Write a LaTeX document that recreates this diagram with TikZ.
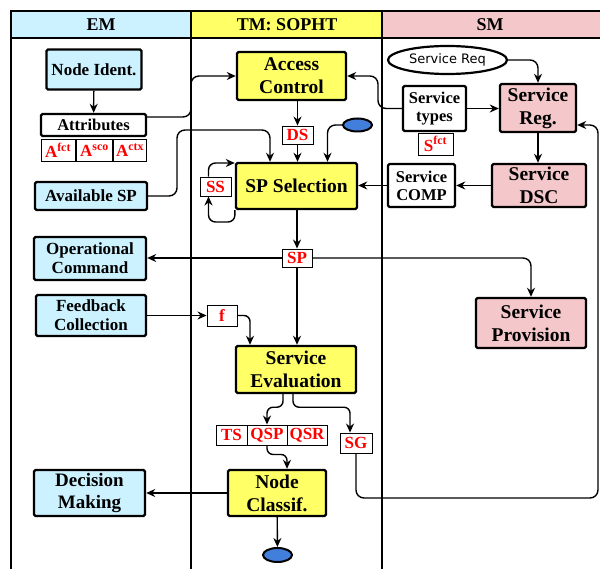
\documentclass[tikz,border=0pt]{standalone}
\usepackage{fontspec}
\setmainfont{Liberation Serif}
\newfontfamily\reqfont{DejaVu Sans}
\usetikzlibrary{calc, positioning, arrows.meta, shapes.geometric}
\definecolor{EMColor}{RGB}{204, 242, 255}
\definecolor{TMColor}{RGB}{255, 255, 102}
\definecolor{SMColor}{RGB}{244, 199, 202}
\definecolor{EndColor}{RGB}{66, 126, 220}

\begin{document}
\begin{tikzpicture}[x=1pt, y=-1pt, >={Stealth[length=9pt, width=8pt]}, line width=1.4pt,
  box/.style={draw, line width=2.4pt, rounded corners=1.5pt, align=center, inner sep=1pt, font=\bfseries\fontsize{19.5}{23}\selectfont},
  em/.style={box, fill=EMColor, font=\bfseries\fontsize{17}{19}\selectfont},
  tm/.style={box, fill=TMColor},
  sm/.style={box, fill=SMColor},
  plain/.style={box, fill=white, font=\bfseries\fontsize{16.5}{18}\selectfont},
  tag/.style={draw, line width=0.9pt, fill=white, text=red, inner sep=0pt, font=\bfseries\fontsize{17}{18}\selectfont},
  blob/.style={draw, ellipse, line width=2pt, fill=EndColor, inner sep=0pt},
  lane/.style={font=\bfseries\fontsize{18}{20}\selectfont}]

\useasboundingbox (0,0) rectangle (600,569);

\fill[EMColor] (11,11) rectangle (191,38);
\fill[TMColor] (191,11) rectangle (382,38);
\fill[SMColor] (382,11) rectangle (602,38);
\draw (11,575) -- (11,11) -- (602,11) -- (602,575);
\draw (11,38) -- (602,38);
\draw (191,11) -- (191,575);
\draw (382,11) -- (382,575);

\node[lane] (emlane) at (101,25) {EM};
\node[lane] (tmlane) at (287,25) {TM: SOPHT};
\node[lane] (smlane) at (490,25) {SM};

\node[em, minimum width=95pt, minimum height=40pt] (nid) at (94,69.5) {Node Ident.};
\node[plain, minimum width=105pt, minimum height=22pt] (attr) at (93.5,125) {Attributes};
\node[tag, minimum width=34pt, minimum height=22pt] (afct) at (58,150.5) {A\textsuperscript{fct}};
\node[tag, minimum width=36pt, minimum height=22pt] (asco) at (94.5,150.5) {A\textsuperscript{sco}};
\node[tag, minimum width=33pt, minimum height=22pt] (actx) at (130,150.5) {A\textsuperscript{ctx}};
\node[em, minimum width=112pt, minimum height=28pt] (avsp) at (91,196) {Available SP};
\node[em, minimum width=112pt, minimum height=43pt] (opc) at (90,258.5) {Operational\\Command};
\node[em, minimum width=110pt, minimum height=41pt] (fc) at (91,315.5) {Feedback\\Collection};
\node[em, minimum width=111pt, minimum height=46pt, font=\bfseries\fontsize{19}{22}\selectfont] (dm) at (89.5,493) {Decision\\Making};

\node[tm, minimum width=109pt, minimum height=48pt] (ac) at (291.5,76) {Access\\Control};
\node[tag, minimum width=31pt, minimum height=18pt] (ds) at (297.5,135) {DS};
\node[blob, minimum width=29pt, minimum height=13pt] (start) at (357.5,125) {};
\node[tm, minimum width=121pt, minimum height=46pt] (sps) at (296.5,186) {SP Selection};
\node[tag, minimum width=31pt, minimum height=19pt] (ss) at (215.5,186.5) {SS};
\node[tag, minimum width=30pt, minimum height=18pt] (sp) at (297,258) {SP};
\node[tag, minimum width=30pt, minimum height=21pt] (fb) at (222,315.5) {f};
\node[tm, minimum width=120pt, minimum height=47pt] (seval) at (296,369.5) {Service\\Evaluation};
\node[tag, minimum width=31pt, minimum height=20pt] (ts) at (231.5,435) {TS};
\node[tag, minimum width=40pt, minimum height=20pt] (qsp) at (267,435) {QSP};
\node[tag, minimum width=40pt, minimum height=20pt] (qsr) at (307,435) {QSR};
\node[tag, minimum width=32pt, minimum height=20pt] (sg) at (356,443) {SG};
\node[tm, minimum width=98pt, minimum height=46pt] (ncl) at (277,493) {Node\\Classif.};
\node[blob, minimum width=29pt, minimum height=14pt] (stop) at (277.5,555) {};

\node[draw, ellipse, line width=2.2pt, inner sep=0pt, minimum width=119pt, minimum height=28pt, font=\reqfont\fontsize{13}{15}\selectfont] (sreq) at (447.5,60) {Service Req};
\node[plain, minimum width=63pt, minimum height=45pt] (st) at (434.5,108.5) {Service\\types};
\node[tag, minimum width=35pt, minimum height=22pt] (sfct) at (435.5,144) {S\textsuperscript{fct}};
\node[sm, minimum width=76pt, minimum height=48pt] (sreg) at (538,108) {Service\\Reg.};
\node[plain, minimum width=67pt, minimum height=43pt] (scomp) at (421.5,185.5) {Service\\COMP};
\node[sm, minimum width=94pt, minimum height=43pt] (sdsc) at (539,185.5) {Service\\DSC};
\node[sm, minimum width=110pt, minimum height=50pt] (sprov) at (531,323) {Service\\Provision};

\draw[->] (nid) -- (attr);
\draw[->, rounded corners=8pt] ([yshift=8pt]attr.east) -- (191,117) -- (191,76) -- (ac.west);
\draw[->, rounded corners=8pt] (avsp.east) -- (177,196) -- (177,130) -- (270,130) -- ([xshift=-26.5pt]sps.north);
\draw[->] (ds.north |- ac.south) -- (ds);
\draw[->] (ds) -- (ds |- sps.north);
\draw[->, rounded corners=8pt] (start.west) -| ([xshift=31pt]sps.north);
\draw[->, rounded corners=7pt] (sps.south west) -- (235,222) -- (208.5,222) -- ([xshift=-7pt]ss.south);
\draw[->, rounded corners=7pt] ([xshift=-7pt]ss.north) |- ([yshift=23pt]sps.west);

\draw[->, rounded corners=8pt] (st.west) -- (378,108.5) -- (378,76) -- (ac.east);
\draw[->] (st.east) -- (st.east -| sreg.west);
\draw[->, rounded corners=8pt] (sreq.east) -| (sreg.north);
\draw[->] (sreg) -- (sreg |- sdsc.north);
\draw[->] (sdsc.west) -- (sdsc.west -| scomp.east);
\draw[->] (scomp.west) -- (scomp.west -| sps.east);

\draw[->] (sp.north |- sps.south) -- (sp);
\draw[->] (sp) -- (sp |- seval.north);
\draw[->] (sp.west) -- (sp.west -| opc.east);
\draw[->, rounded corners=8pt] (sp.east) -| (sprov.north);
\draw[->] (fc.east) -- (fc.east -| fb.west);
\draw[->, rounded corners=6pt] (fb.east) -| ([xshift=-46pt]seval.north);

\draw[->, rounded corners=6pt] ([xshift=-13pt]seval.south) -- ++(0,13) -| (qsp.north);
\draw[->, rounded corners=6pt] ([xshift=-3pt]seval.south) -- ++(0,13) -| ([xshift=-6pt]sg.north);
\draw[->, rounded corners=6pt] (qsp.south) -- ++(0,9) -| ([xshift=10pt]ncl.north);
\draw[->, rounded corners=8pt] (sg.south) |- (598,498) |- ([yshift=-17pt]sreg.east);
\draw[->] (ncl.west) -- (ncl.west -| dm.east);
\draw[->] (ncl) -- (stop);

\end{tikzpicture}
\end{document}
